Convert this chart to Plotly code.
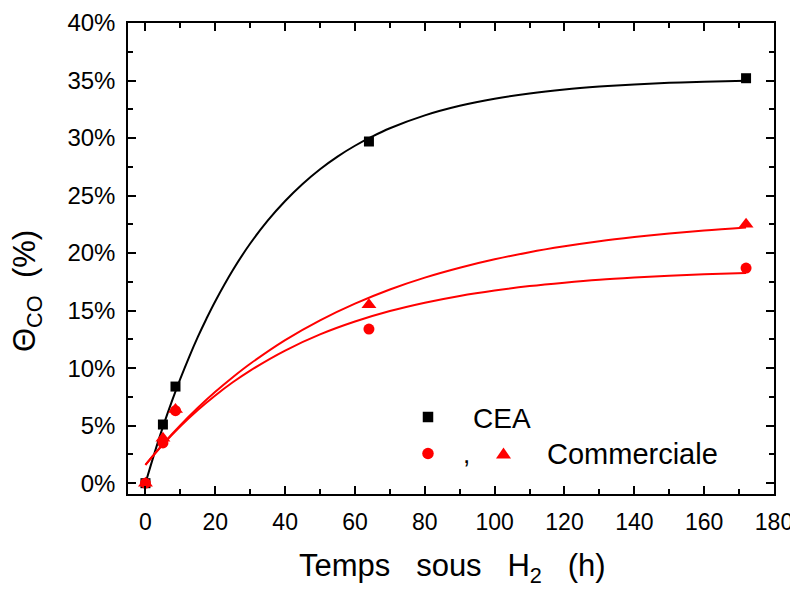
import plotly.graph_objects as go

# ---- data ----
time_cea = [0, 5, 8.6, 64, 172]
theta_cea = [0, 5.1, 8.4, 29.7, 35.2]

time_com = [0, 5, 8.6, 64, 172]
theta_com_circle = [0, 3.5, 6.3, 13.4, 18.7]
theta_com_triangle = [0, 3.9, 6.4, 15.5, 22.5]

# fitted curves
fit_x = [0, 2.5, 5, 7.5, 10, 12.5, 15, 17.5, 20, 25, 30, 35, 40, 45, 50, 55, 60, 65, 70,
         80, 90, 100, 110, 120, 130, 140, 150, 160, 172]
fit_cea = [0, 2.53, 4.89, 7.06, 9.08, 10.96, 12.71, 14.32, 15.82, 18.51, 20.83, 22.82, 24.53,
           26.01, 27.29, 28.39, 29.33, 30.14, 30.85, 31.97, 32.80, 33.42, 33.88, 34.22, 34.47,
           34.66, 34.80, 34.90, 34.99]

fitc_x = [0, 5, 10, 15, 20, 25, 30, 40, 50, 60, 70, 80, 90, 100, 110, 120, 130, 140, 150, 160, 172]
fit_triangle = [1.6, 3.40, 5.04, 6.55, 7.94, 9.21, 10.38, 12.44, 14.16, 15.61, 16.84, 17.87,
                18.73, 19.46, 20.08, 20.59, 21.03, 21.39, 21.70, 21.96, 22.22]
fit_circle = [1.6, 3.36, 4.94, 6.36, 7.63, 8.77, 9.79, 11.53, 12.93, 14.05, 14.96, 15.69,
              16.28, 16.75, 17.13, 17.43, 17.68, 17.87, 18.03, 18.16, 18.28]

x_ticks = [0, 20, 40, 60, 80, 100, 120, 140, 160, 180]
y_ticks = [0, 5, 10, 15, 20, 25, 30, 35, 40]

legend_cea = "CEA"
legend_com = "Commerciale"

FONT = "Liberation Sans, Arial, sans-serif"
OFF = 8  # page body margin of the browser
W, H = 798 - OFF, 591 - OFF
# plot frame in window pixels: x 128..774, y 23..494
L = 128 - OFF
T = 23 - OFF
R = W - (774 - OFF)
B = H - (494 - OFF)
PW, PH = W - L - R, H - T - B


def px(xp):
    return (xp - OFF - L) / PW


def py(yp):
    return (H - B - (yp - OFF)) / PH


fig = go.Figure()

fig.add_trace(go.Scatter(x=fit_x, y=fit_cea, mode="lines", line=dict(color="black", width=2, shape="spline"),
                         showlegend=False, hoverinfo="skip"))
fig.add_trace(go.Scatter(x=time_cea, y=theta_cea, mode="markers",
                         marker=dict(symbol="square", size=10, color="black"), showlegend=False))
fig.add_trace(go.Scatter(x=fitc_x, y=fit_triangle, mode="lines", line=dict(color="red", width=2, shape="spline"),
                         showlegend=False, hoverinfo="skip"))
fig.add_trace(go.Scatter(x=fitc_x, y=fit_circle, mode="lines", line=dict(color="red", width=2, shape="spline"),
                         showlegend=False, hoverinfo="skip"))
fig.add_trace(go.Scatter(x=time_com, y=theta_com_circle, mode="markers",
                         marker=dict(symbol="circle", size=11, color="red"), showlegend=False))
fig.add_trace(go.Scatter(x=time_com, y=theta_com_triangle, mode="markers",
                         marker=dict(symbol="triangle-up", size=13, color="red"), showlegend=False))

axis_common = dict(showline=True, linecolor="black", linewidth=1.5, mirror="allticks",
                   ticks="inside", ticklen=8, tickwidth=1.5, tickcolor="black",
                   showgrid=False, zeroline=False,
                   minor=dict(ticks="inside", ticklen=5, tickwidth=1.5, tickcolor="black"))

fig.update_xaxes(range=[-5, 180], tickvals=x_ticks, ticktext=[str(v) for v in x_ticks],
                 minor_dtick=10, minor_tick0=0,
                 tickfont=dict(family=FONT, size=23, color="black"), ticklabelstandoff=7,
                 **axis_common)
fig.update_yaxes(range=[-0.94, 40], tickvals=y_ticks, ticktext=[f"{v}%" for v in y_ticks],
                 minor_dtick=2.5, minor_tick0=0,
                 tickfont=dict(family=FONT, size=24, color="black"), ticklabelstandoff=6,
                 **axis_common)

shapes = []
# legend symbols
s = 10.5
shapes.append(dict(type="rect", xref="paper", yref="paper",
                   x0=px(428 - s / 2), x1=px(428 + s / 2), y0=py(417 + s / 2), y1=py(417 - s / 2),
                   fillcolor="black", line=dict(width=0)))
c = 11.5
shapes.append(dict(type="circle", xref="paper", yref="paper",
                   x0=px(428 - c / 2), x1=px(428 + c / 2), y0=py(453.5 + c / 2), y1=py(453.5 - c / 2),
                   fillcolor="red", line=dict(width=0)))
tx, ty, tw, th = 503.5, 453, 15, 11
shapes.append(dict(type="path", xref="paper", yref="paper",
                   path=f"M {px(tx - tw / 2)} {py(ty + th / 2)} L {px(tx + tw / 2)} {py(ty + th / 2)} "
                        f"L {px(tx)} {py(ty - th / 2)} Z",
                   fillcolor="red", line=dict(width=0)))

annotations = [
    dict(text=legend_cea, x=px(471), y=py(418), xref="paper", yref="paper", xanchor="left", yanchor="middle",
         showarrow=False, font=dict(family=FONT, size=28, color="black")),
    dict(text=",", x=px(467), y=py(454), xref="paper", yref="paper", xanchor="center", yanchor="middle",
         showarrow=False, font=dict(family=FONT, size=26, color="black")),
    dict(text=legend_com, x=px(545), y=py(454), xref="paper", yref="paper", xanchor="left", yanchor="middle",
         showarrow=False, font=dict(family=FONT, size=29, color="black")),
    dict(text="Temps   sous   H<sub>2</sub>   (h)", x=px(452), y=py(568), xref="paper", yref="paper",
         xanchor="center", yanchor="middle", showarrow=False, font=dict(family=FONT, size=31, color="black")),
    dict(text="Θ<sub>CO</sub>  (%)", x=px(27), y=py(291), xref="paper", yref="paper", textangle=-90,
         xanchor="center", yanchor="middle", showarrow=False, font=dict(family=FONT, size=31, color="black")),
]

fig.update_layout(width=W, height=H, margin=dict(l=L, r=R, t=T, b=B, autoexpand=False),
                  plot_bgcolor="white", paper_bgcolor="white", showlegend=False,
                  shapes=shapes, annotations=annotations)

fig.write_html("out.html")
